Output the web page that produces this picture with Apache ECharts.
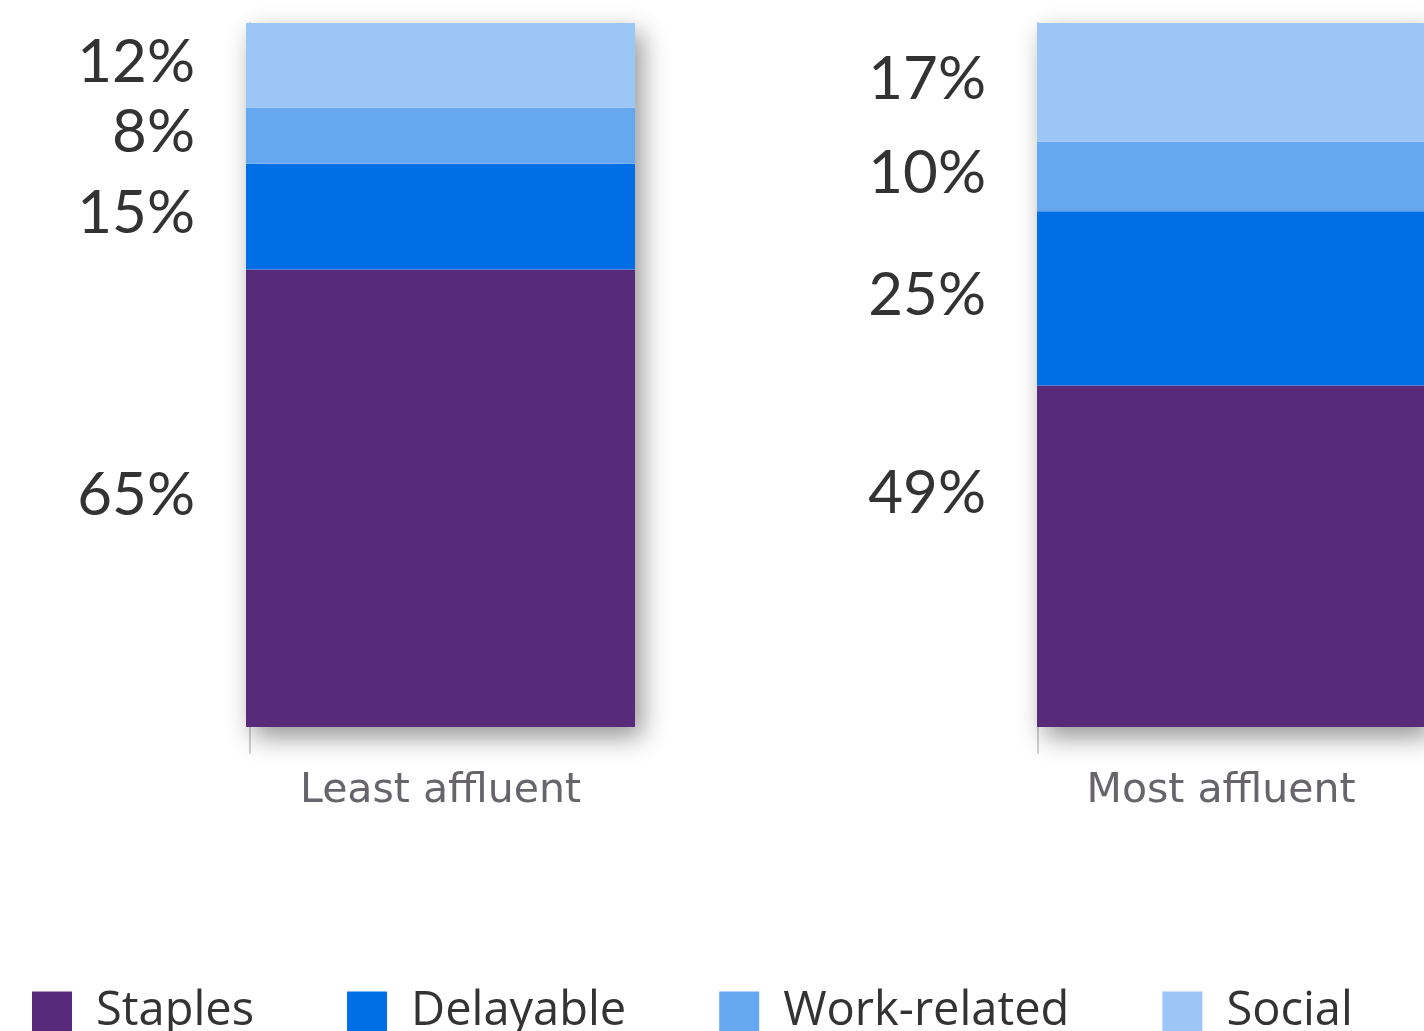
<!DOCTYPE html>
<html>
<head>
<meta charset="utf-8">
<script src="https://cdn.jsdelivr.net/npm/echarts@6/dist/echarts.min.js"></script>
<style>
html,body{margin:0;padding:0;background:#fff;}
#c{width:1424px;height:1031px;}
</style>
</head>
<body>
<div id="c"></div>
<script>
const groups = ['Least affluent', 'Most affluent'];
const categories = ['Staples', 'Delayable', 'Work-related', 'Social'];
const leastAffluent = [65, 15, 8, 12];
const mostAffluent = [49, 25, 10, 17];
const colors = ['#5a2a7a', '#006fe6', '#65a8ef', '#9bc6f5'];

const FONT = 'Lato';
const sum = a => a.reduce((s, v) => s + v, 0);
const groupData = [leastAffluent, mostAffluent];

// plot area: bars 704px tall; an extra 26px below the baseline holds the small tick
const PLOT_H = 704, TICK_LEN = 26;
const grids = [
  {left: 246, width: 389, top: 23, height: PLOT_H + TICK_LEN},
  {left: 1037, width: 389, top: 23, height: PLOT_H + TICK_LEN}
];

const xAxes = groups.map((g, i) => ({
  type: 'category', gridIndex: i, data: [g],
  axisLine: {show: false},
  axisTick: {show: false},
  axisLabel: {fontFamily: 'DejaVu Sans', fontSize: 41, color: '#67646c', margin: 18,
    padding: i === 1 ? [0, 19, 0, 0] : 0}
}));
const yAxes = groups.map((g, i) => {
  const max = sum(groupData[i]);
  return {
    type: 'value', gridIndex: i, max: max, min: -max * TICK_LEN / PLOT_H,
    offset: i === 0 ? -4 : -1,
    axisLine: {show: true, lineStyle: {color: '#d0d0d0', width: 2}},
    axisTick: {show: false}, axisLabel: {show: false}, splitLine: {show: false}
  };
});

const series = [];
groups.forEach((g, gi) => {
  series.push({
    type: 'bar', xAxisIndex: gi, yAxisIndex: gi, stack: 'bg' + gi,
    data: [sum(groupData[gi])], barWidth: '100%', barGap: '-100%', silent: true, z: 1,
    itemStyle: {color: '#ffffff', shadowColor: 'rgba(0,0,0,0.42)', shadowBlur: 24, shadowOffsetX: 7, shadowOffsetY: 10},
    label: {show: false}, tooltip: {show: false}
  });
  categories.forEach((c, ci) => {
    let offY = -3;
    if (gi === 1 && ci === 0) offY = -63;
    series.push({
      name: c, type: 'bar', xAxisIndex: gi, yAxisIndex: gi, stack: 's' + gi,
      data: [groupData[gi][ci]], barWidth: '100%', barGap: '-100%', z: 2,
      itemStyle: {color: colors[ci]},
      label: {show: true, position: 'left', distance: 51, formatter: '{c}%',
        fontFamily: FONT, fontSize: 60, color: '#333333', offset: [0, offY]}
    });
  });
});

const chart = echarts.init(document.getElementById('c'));
chart.setOption({
  animation: false,
  color: colors,
  grid: grids,
  xAxis: xAxes,
  yAxis: yAxes,
  legend: {
    data: categories, left: 32, top: 988, padding: 0, icon: 'rect',
    itemWidth: 40, itemHeight: 40, itemGap: 93,
    textStyle: {fontFamily: 'Open Sans', fontSize: 47, color: '#333333', padding: [0, 0, 0, 19]}
  },
  series: series
});
</script>
</body>
</html>
